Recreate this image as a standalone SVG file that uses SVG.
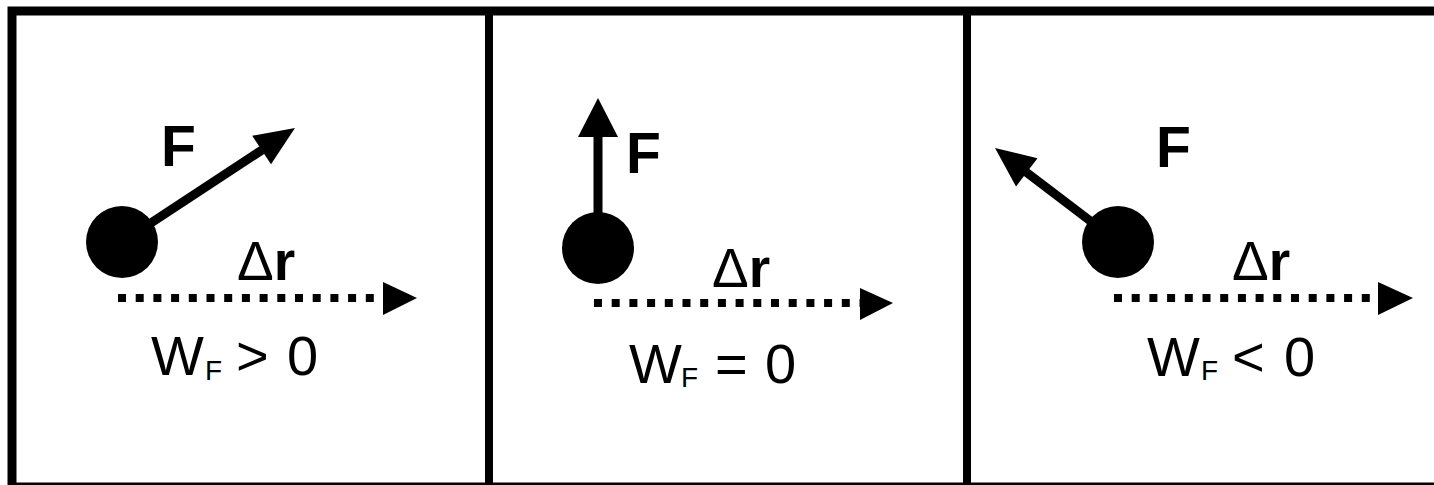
<svg xmlns="http://www.w3.org/2000/svg" width="1434" height="485" viewBox="0 0 1434 485">
<style>
.frame{fill:none;stroke:#000;stroke-width:9}
.div{stroke:#000;stroke-width:8}
.force{stroke:#000;stroke-width:9;fill:none}
.disp{stroke:#000;stroke-width:8;stroke-dasharray:8 9.7;fill:none}
.head{fill:#000}
text{font-family:'Liberation Sans',Arial,Helvetica,sans-serif;fill:#000}
.lbl{font-weight:bold;font-size:57px}
.dr{font-weight:bold;font-size:55px}
.delta{font-weight:normal}
.eq{font-size:56px}
.sub{font-size:28px}
</style>
<rect width="1434" height="485" fill="#fff"/>
<g id="frame">
<rect class="frame" x="12" y="11" width="1440" height="476"/>
<line class="div" x1="489" y1="11" x2="489" y2="490"/>
<line class="div" x1="967" y1="11" x2="967" y2="490"/>
</g>
<g id="connectors">
<line class="force" x1="122" y1="242" x2="262" y2="150"/>
<polygon class="head" points="295,128 252.2,135.8 271,164.2"/>
<line class="force" x1="598" y1="248" x2="598" y2="134"/>
<polygon class="head" points="598,98 578,137 618,137"/>
<line class="force" x1="1118" y1="242" x2="1026" y2="172"/>
<polygon class="head" points="995,148 1037.5,158.3 1016,186.5"/>
<line class="disp" x1="118" y1="298" x2="384" y2="298"/>
<polygon class="head" points="417,298 383,282 383,315"/>
<line class="disp" x1="594" y1="303" x2="861" y2="303"/>
<polygon class="head" points="893,303 860,288 860,320"/>
<line class="disp" x1="1114" y1="298" x2="1379" y2="298"/>
<polygon class="head" points="1413,298 1378,282 1378,315"/>
</g>
<g id="panel1">
<circle cx="122" cy="242" r="36"/>
<text class="lbl" x="161" y="166">F</text>
<text class="dr" x="237" y="280"><tspan class="delta">Δ</tspan>r</text>
<text class="eq" y="375"><tspan x="151">W</tspan><tspan class="sub" x="205" dy="5">F</tspan><tspan x="236" dy="-5">&gt;</tspan><tspan x="287">0</tspan></text>
</g>
<g id="panel2">
<circle cx="598" cy="248" r="36"/>
<text class="lbl" x="626" y="173">F</text>
<text class="dr" x="712" y="287"><tspan class="delta">Δ</tspan>r</text>
<text class="eq" y="383"><tspan x="629">W</tspan><tspan class="sub" x="681" dy="4">F</tspan><tspan x="715" dy="-4">=</tspan><tspan x="765">0</tspan></text>
</g>
<g id="panel3">
<circle cx="1118" cy="242" r="36"/>
<text class="lbl" x="1156" y="167">F</text>
<text class="dr" x="1232" y="280"><tspan class="delta">Δ</tspan>r</text>
<text class="eq" y="376"><tspan x="1147">W</tspan><tspan class="sub" x="1201" dy="4">F</tspan><tspan x="1232" dy="-4">&lt;</tspan><tspan x="1284">0</tspan></text>
</g>
</svg>
